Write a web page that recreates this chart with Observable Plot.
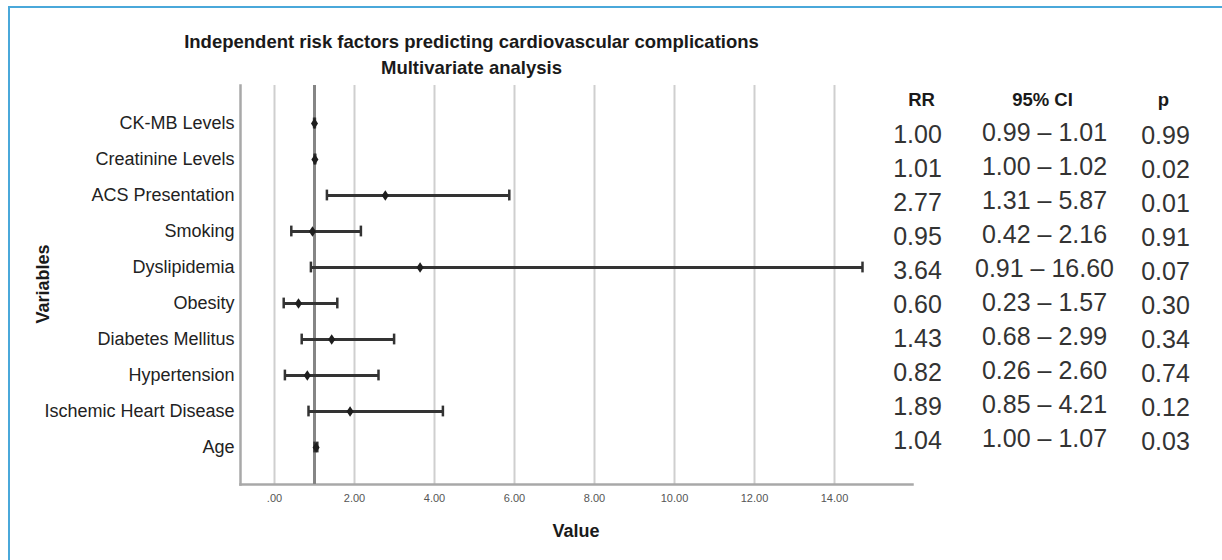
<!DOCTYPE html>
<html><head><meta charset="utf-8">
<script src="https://cdn.jsdelivr.net/npm/d3@7"></script>
<script src="https://cdn.jsdelivr.net/npm/@observablehq/plot@0.6"></script>
<style>
html,body{margin:0;padding:0;background:#fff;}
#wrap{position:relative;width:1222px;height:560px;overflow:hidden;font-family:"Liberation Sans",Arial,sans-serif;}
#wrap svg{position:absolute;left:0;top:0;}
.border{position:absolute;left:8px;top:6px;width:1230px;height:570px;border-left:2px solid #4aa8da;border-top:2px solid #4aa8da;}
.t{position:absolute;font-weight:bold;color:#1a1a1a;white-space:nowrap;line-height:1;}
</style></head>
<body>
<div id="wrap">
  <div class="border"></div>
  <div class="t" style="left:471.5px;top:33.3px;font-size:18.5px;transform:translateX(-50%);">Independent risk factors predicting cardiovascular complications</div>
  <div class="t" style="left:471.5px;top:59.3px;font-size:18.5px;transform:translateX(-50%);">Multivariate analysis</div>
  <div class="t" style="left:576px;top:522px;font-size:18px;transform:translateX(-50%);">Value</div>
  <div class="t" style="left:43px;top:284px;font-size:18px;transform:translate(-50%,-50%) rotate(-90deg);">Variables</div>
</div>
<script>
// ---- data ----
const variables = ["CK-MB Levels","Creatinine Levels","ACS Presentation","Smoking","Dyslipidemia","Obesity","Diabetes Mellitus","Hypertension","Ischemic Heart Disease","Age"];
const rr      = [1.00, 1.01, 2.77, 0.95, 3.64, 0.60, 1.43, 0.82, 1.89, 1.04];
const ciLow   = [0.99, 1.00, 1.31, 0.42, 0.91, 0.23, 0.68, 0.26, 0.85, 1.00];
const ciHigh  = [1.01, 1.02, 5.87, 2.16, 16.60, 1.57, 2.99, 2.60, 4.21, 1.07];
// upper whisker as drawn in the chart (Dyslipidemia whisker is cut at the plotted edge)
const ciHighDrawn = [1.01, 1.02, 5.87, 2.16, 14.7, 1.57, 2.99, 2.60, 4.21, 1.07];
const pValue  = [0.99, 0.02, 0.01, 0.91, 0.07, 0.30, 0.34, 0.74, 0.12, 0.03];
const xTicks  = [0, 2, 4, 6, 8, 10, 12, 14];
const xDomain = [-0.85, 15.95];
const tableCols = ["RR", "95% CI", "p"];
const refValue = [1];

// ---- build ----
const data = variables.map((v, i) => ({v, rr: rr[i], lo: ciLow[i], hi: ciHighDrawn[i]}));
const tallDiamond = {
  draw(ctx, size) {
    const r = Math.sqrt(size / Math.PI), w = r * 0.68;
    ctx.moveTo(0, -r); ctx.lineTo(w, 0); ctx.lineTo(0, r); ctx.lineTo(-w, 0); ctx.closePath();
  }
};
const fmt = d => d === 0 ? ".00" : d.toFixed(2);

const chart = Plot.plot({
  width: 1222, height: 560,
  marginTop: 85, marginRight: 310, marginBottom: 76, marginLeft: 240,
  style: {fontFamily: "Liberation Sans, Arial, sans-serif", background: "transparent", color: "#222", overflow: "visible"},
  x: {domain: xDomain},
  y: {type: "band", domain: variables, paddingInner: 0, paddingOuter: 0.5},
  marks: [
    Plot.gridX(xTicks, {stroke: "#cfcfcf", strokeOpacity: 1, strokeWidth: 2}),
    Plot.frame({anchor: "left", stroke: "#a8a8a8", strokeWidth: 2.5}),
    Plot.frame({anchor: "bottom", stroke: "#a8a8a8", strokeWidth: 2.5}),
    Plot.ruleX(refValue, {stroke: "#858585", strokeWidth: 3}),
    Plot.ruleY(data, {y: "v", x1: "lo", x2: "hi", stroke: "#333", strokeWidth: 3}),
    Plot.tickX(data, {x: "lo", y: "v", stroke: "#333", strokeWidth: 2.5, insetTop: 12.6, insetBottom: 12.6}),
    Plot.tickX(data, {x: "hi", y: "v", stroke: "#333", strokeWidth: 2.5, insetTop: 12.6, insetBottom: 12.6}),
    Plot.dot(data, {x: "rr", y: "v", symbol: tallDiamond, r: 5.2, fill: "#1e1e1e", stroke: "none"}),
    Plot.axisY({tickSize: 0, tickPadding: 6, fontSize: 18, fill: "#222", label: null}),
    Plot.axisX({ticks: xTicks, tickSize: 0, tickPadding: 10, fontSize: 11, fill: "#555", tickFormat: fmt, label: null})
  ]
});

const rows = ["header", ...variables];
const cells = [];
variables.forEach((v, i) => {
  cells.push({row: v, col: "RR", text: rr[i].toFixed(2)});
  cells.push({row: v, col: "95% CI", text: ciLow[i].toFixed(2) + " \u2013 " + ciHigh[i].toFixed(2)});
  cells.push({row: v, col: "p", text: pValue[i].toFixed(2)});
});
const valueText = {fontSize: 25, fill: "#333"};

const table = Plot.plot({
  width: 1222, height: 560,
  marginTop: 98, marginRight: 57, marginBottom: 118, marginLeft: 922,
  style: {fontFamily: "Liberation Sans, Arial, sans-serif", background: "transparent", overflow: "visible"},
  x: {type: "point", domain: tableCols, padding: 0, axis: null},
  y: {type: "point", domain: rows, padding: 0, axis: null},
  marks: [
    Plot.text(tableCols, {x: d => d, y: () => "header", text: d => d, fontWeight: "bold", fontSize: 18.5, fill: "#1a1a1a", dx: -2}),
    Plot.text(cells.filter(c => c.col === "RR"), {x: "col", y: "row", text: "text", ...valueText, dx: -6}),
    Plot.text(cells.filter(c => c.col === "95% CI"), {x: "col", y: "row", text: "text", ...valueText, dy: -2}),
    Plot.text(cells.filter(c => c.col === "p"), {x: "col", y: "row", text: "text", ...valueText, dy: 1})
  ]
});

const wrap = document.getElementById("wrap");
wrap.appendChild(chart);
wrap.appendChild(table);
</script>
</body></html>
